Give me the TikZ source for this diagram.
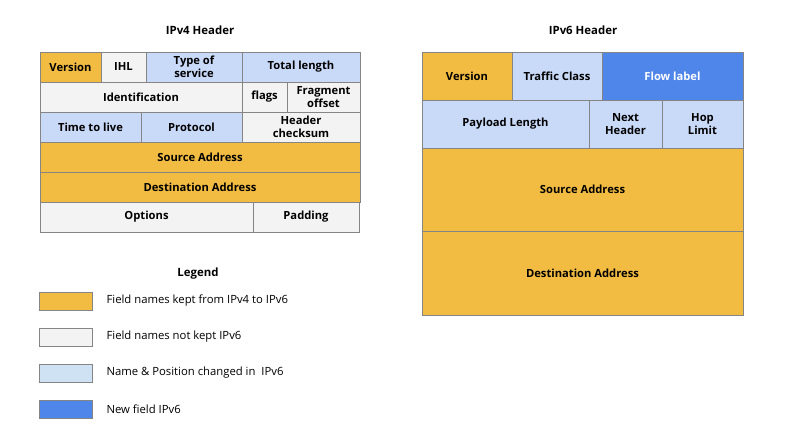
\documentclass[tikz,border=0pt]{standalone}
\usepackage{fontspec}
\setmainfont{Open Sans}
\usetikzlibrary{positioning}

\definecolor{kept}{HTML}{F2BC42}
\definecolor{notkept}{HTML}{F3F3F3}
\definecolor{changed}{HTML}{C9DAF8}
\definecolor{changedkey}{HTML}{CFE2F3}
\definecolor{newfield}{HTML}{4F86EA}
\definecolor{edge}{HTML}{858585}

\tikzset{
    field/.style={draw=edge, line width=0.8pt, inner sep=0pt, outer sep=0pt, align=center,
        font=\fontsize{11.2}{12.5}\selectfont\bfseries},
    title/.style={font=\fontsize{11.4}{13}\selectfont\bfseries},
    swatch/.style={draw=edge, line width=0.8pt, minimum width=53pt, minimum height=18pt, inner sep=0pt},
    legendtext/.style={font=\fontsize{11.3}{13}\selectfont, inner sep=0pt}
}

\begin{document}
\begin{tikzpicture}[x=1pt, y=-1pt]
    \useasboundingbox (0,0) rectangle (793,428);

    % name, x1, y1, x2, y2, style, text
    \def\field#1#2#3#4#5#6#7{%
        \node[field, #6, minimum width={(#4-#2)*1pt}, minimum height={(#5-#3)*1pt}, anchor=north west] (#1) at (#2,#3) {#7};
    }

    % IPv4
    \node[title] (v4title) at (200,30) {IPv4 Header};
    \field{v4version}{40}{52}{101}{82}{fill=kept}{Version}
    \field{v4ihl}{101}{52}{146}{82}{fill=notkept}{IHL}
    \field{v4tos}{146}{52}{242}{82}{fill=changed}{Type of\\service}
    \field{v4total}{242}{52}{360}{82}{fill=changed}{Total length}

    \field{v4ident}{40}{82}{242}{112}{fill=notkept}{Identification}
    \field{v4flags}{242}{82}{287}{112}{fill=notkept}{flags}
    \field{v4frag}{287}{82}{360}{112}{fill=notkept}{Fragment\\offset}

    \field{v4ttl}{40}{112}{141}{142}{fill=changed}{Time to live}
    \field{v4proto}{141}{112}{242}{142}{fill=changed}{Protocol}
    \field{v4check}{242}{112}{360}{142}{fill=notkept}{Header\\checksum}

    \field{v4src}{40}{142}{360}{172}{fill=kept}{Source Address}
    \field{v4dst}{40}{172}{360}{202}{fill=kept}{Destination Address}

    \field{v4opts}{40}{202}{253}{232}{fill=notkept}{Options}
    \field{v4pad}{253}{202}{359}{232}{fill=notkept}{Padding}

    % IPv6
    \node[title] (v6title) at (583,30) {IPv6 Header};
    \field{v6version}{422}{52}{512}{100}{fill=kept}{Version}
    \field{v6traffic}{512}{52}{602}{100}{fill=changed}{Traffic Class}
    \field{v6flow}{602}{52}{743}{100}{fill=newfield, text=white}{Flow label}

    \field{v6payload}{422}{100}{589}{148}{fill=changed}{Payload Length}
    \field{v6next}{589}{100}{662}{148}{fill=changed}{Next\\Header}
    \field{v6hop}{662}{100}{743}{148}{fill=changed}{Hop\\Limit}

    \field{v6src}{422}{148}{743}{231}{fill=kept}{Source Address}
    \field{v6dst}{422}{231}{743}{315}{fill=kept}{Destination Address}

    % Legend
    \node[title] (legend) at (198,274) {Legend};
    \node[swatch, fill=kept] (swkept) at (66,301) {};
    \node[swatch, fill=notkept] (swnotkept) at (66,337) {};
    \node[swatch, fill=changedkey] (swchanged) at (66,373) {};
    \node[swatch, fill=newfield] (swnew) at (66,409) {};

    \node[legendtext, right=13.5pt of swkept] (lkept) {Field names kept from IPv4 to IPv6};
    \node[legendtext, right=13.5pt of swnotkept] (lnotkept) {Field names not kept IPv6};
    \node[legendtext, right=13.5pt of swchanged] (lchanged) {Name \& Position changed in\ \ IPv6};
    \node[legendtext, right=13.5pt of swnew] (lnew) {New field IPv6};
\end{tikzpicture}
\end{document}
